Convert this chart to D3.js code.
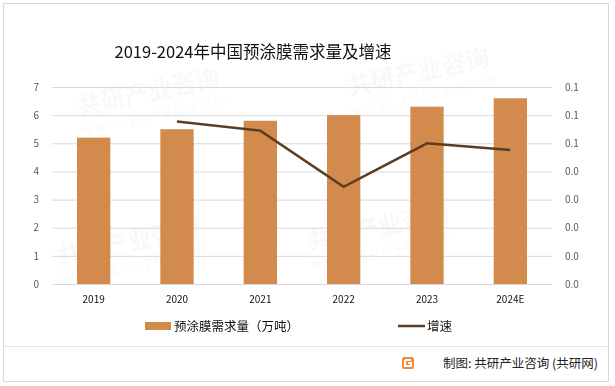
<!DOCTYPE html>
<html>
<head>
<meta charset="utf-8">
<script src="https://cdn.jsdelivr.net/npm/d3@7"></script>
<style>
  body { margin: 0; background: #fff; }
  text { font-family: "Noto Sans CJK SC", "Noto Sans", sans-serif; }
</style>
</head>
<body>
<div id="chart"></div>
<script>
let years = ["2019", "2020", "2021", "2022", "2023", "2024E"]
let demand = [5.2, 5.5, 5.8, 6.0, 6.3, 6.6]
let growth = [null, 0.0577, 0.0545, 0.0345, 0.05, 0.0476]
let leftTicks = [0, 1, 2, 3, 4, 5, 6, 7]
let rightTicks = [0, 0.01, 0.02, 0.03, 0.04, 0.05, 0.06, 0.07]

let width = 615, height = 386
let margin = {top: 87, right: 63, bottom: 102, left: 52}

let svg = d3.select("#chart").append("svg")
  .attr("width", width)
  .attr("height", height)

// outer frame
svg.append("rect")
  .attr("x", 3.5).attr("y", 3.5)
  .attr("width", 605).attr("height", 378)
  .attr("fill", "#fff")
  .attr("stroke", "#d9d9d9")

// faint watermarks
let marks = [[150, 100], [420, 80], [130, 250], [380, 235]]
let wm = svg.append("g").attr("fill", "#000").attr("opacity", 0.03)
marks.forEach(function(m) {
  let g = wm.append("g").attr("transform", "translate(" + m[0] + "," + m[1] + ") rotate(-12)")
  g.append("text").text("共研产业咨询")
    .attr("font-size", 24).attr("font-weight", "bold").attr("text-anchor", "middle")
  g.append("text").text("w w w . g o n y n . c o m")
    .attr("y", 20).attr("font-size", 14).attr("text-anchor", "middle")
})

svg.append("text")
  .attr("x", 253).attr("y", 58)
  .attr("text-anchor", "middle")
  .attr("font-size", 16.5)
  .attr("fill", "#111")
  .text("2019-2024年中国预涂膜需求量及增速")

let x = d3.scaleBand()
  .domain(years)
  .range([margin.left, width - margin.right])
  .paddingInner(0.6)
  .paddingOuter(0.3)

let y = d3.scaleLinear()
  .domain([0, 7])
  .range([height - margin.bottom, margin.top])

let y2 = d3.scaleLinear()
  .domain([0, 0.07])
  .range([height - margin.bottom, margin.top])

// gridlines
svg.append("g")
  .selectAll("line")
  .data(leftTicks)
  .enter()
  .append("line")
    .attr("x1", margin.left)
    .attr("x2", width - margin.right)
    .attr("y1", d => y(d) + 0.5)
    .attr("y2", d => y(d) + 0.5)
    .attr("stroke", "#d9d9d9")

let leftAxis = svg.append("g")
  .attr("transform", "translate(" + (margin.left - 8) + ",0)")
  .call(d3.axisLeft(y).tickValues(leftTicks).tickSize(0).tickFormat(d3.format("d")))
leftAxis.select(".domain").remove()
leftAxis.selectAll("text").attr("font-size", 10).attr("fill", "#595959").attr("dx", -2)

let rightAxis = svg.append("g")
  .attr("transform", "translate(" + (width - margin.right + 10) + ",0)")
  .call(d3.axisRight(y2).tickValues(rightTicks).tickSize(0).tickFormat(d => (Math.round(d * 10 + 1e-9) / 10).toFixed(1)))
rightAxis.select(".domain").remove()
rightAxis.selectAll("text").attr("font-size", 10).attr("fill", "#595959")

let xAxis = svg.append("g")
  .attr("transform", "translate(0," + (height - margin.bottom) + ")")
  .call(d3.axisBottom(x).tickSize(0))
xAxis.select(".domain").remove()
xAxis.selectAll("text").attr("font-size", 10).attr("fill", "#111").attr("dy", "1.55em")

svg.append("g")
  .selectAll("rect")
  .data(demand)
  .enter()
  .append("rect")
    .attr("x", (d, i) => x(years[i]))
    .attr("width", x.bandwidth())
    .attr("y", d => y(d))
    .attr("height", d => y(0) - y(d))
    .attr("fill", "#d38b4d")

let line = d3.line()
  .defined(d => d != null)
  .x((d, i) => x(years[i]) + x.bandwidth() / 2)
  .y(d => y2(d))

svg.append("path")
  .datum(growth)
  .attr("d", line)
  .attr("fill", "none")
  .attr("stroke", "#5c3d24")
  .attr("stroke-width", 2.5)

// legend
let legend = svg.append("g").attr("font-size", 12.5).attr("fill", "#111")
legend.append("rect").attr("x", 145).attr("y", 322).attr("width", 26).attr("height", 8).attr("fill", "#d38b4d")
legend.append("text").attr("x", 174).attr("y", 330.5).text("预涂膜需求量（万吨）")
legend.append("line").attr("x1", 398).attr("x2", 425).attr("y1", 326).attr("y2", 326)
  .attr("stroke", "#5c3d24").attr("stroke-width", 2.5)
legend.append("text").attr("x", 427).attr("y", 330.5).text("增速")

// footer
svg.append("line")
  .attr("x1", 4).attr("x2", 608)
  .attr("y1", 346.5).attr("y2", 346.5)
  .attr("stroke", "#e6e6e6")

let logo = svg.append("g").attr("transform", "translate(402,357)")
logo.append("rect").attr("width", 12).attr("height", 12).attr("rx", 2).attr("fill", "#f08a3c")
logo.append("path").attr("d", "M3,3 H9 M3,3 V9 H9 V6 H6").attr("stroke", "#fff").attr("stroke-width", 2).attr("fill", "none")

svg.append("text")
  .attr("x", 598).attr("y", 368)
  .attr("text-anchor", "end")
  .attr("font-size", 12.5)
  .attr("fill", "#222")
  .text("制图: 共研产业咨询 (共研网)")
</script>
</body>
</html>
